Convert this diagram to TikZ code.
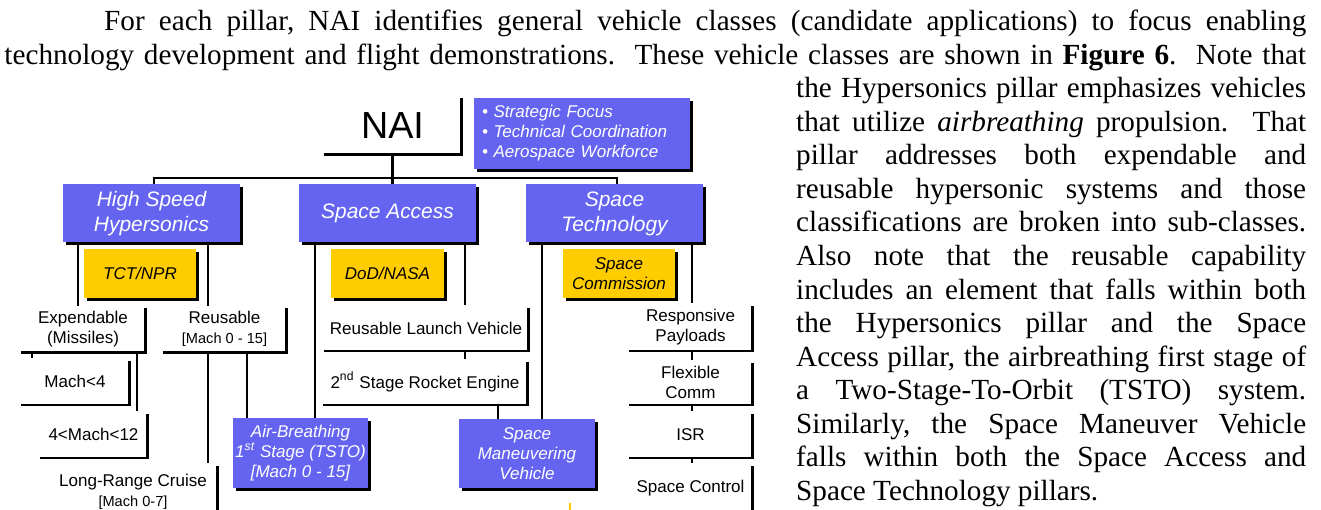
\documentclass[tikz,border=0pt]{standalone}
\usepackage{fontspec}
\setmainfont{Liberation Serif}
\newfontfamily\arialf{Liberation Sans}
\usetikzlibrary{shadows}
\definecolor{pblue}{RGB}{100,100,240}
\definecolor{pgold}{RGB}{255,204,0}
\newcommand\rbedge[1]{\draw[ln] ([yshift=-1.2pt]#1.north east) -- (#1.south east) -- (#1.south west);}
\newcommand\jline[3]{\noindent\hspace*{#1}\hbox to #2{#3}\par}
\frenchspacing
\begin{document}
\begin{tikzpicture}[x=0.411pt, y=-0.411pt,
  sz/.style 2 args={minimum width=#1*0.411pt, minimum height=#2*0.411pt},
  shad/.style={drop shadow={shadow xshift=1.1pt, shadow yshift=-1.1pt, opacity=1, fill=black}},
  bluebox/.style={fill=pblue, shad, inner sep=0pt, align=center, text=white,
    font=\arialf\itshape\fontsize{8.6}{10.3}\selectfont},
  smallblue/.style={bluebox, font=\arialf\itshape\fontsize{7}{8.2}\selectfont},
  goldbox/.style={fill=pgold, shad, inner sep=0pt, align=center, text=black,
    font=\arialf\itshape\fontsize{7}{8.2}\selectfont},
  wbox/.style={inner sep=0pt, align=center, text=black,
    font=\arialf\fontsize{7}{8.2}\selectfont},
  ln/.style={line width=0.85pt, black}]
\useasboundingbox (0,0) rectangle (1321,510);
\fill[white] (0,0) rectangle (1321,510);

% ---------- paragraph text ----------
\node[anchor=north west, inner sep=0pt, text width=535pt,
      font=\rmfamily\fontsize{12}{13.8}\selectfont] (para) at (4,5.67) {%
\spaceskip=3pt plus 8pt minus 1pt\xspaceskip=3pt plus 8pt minus 1pt
\noindent\hspace*{41pt}\rule{0pt}{10pt}\hbox to 494pt{For each pillar, NAI identifies general vehicle classes (candidate applications) to focus enabling}\par
\jline{0pt}{535pt}{technology development and flight demonstrations.\ \ These vehicle classes are shown in \textbf{Figure 6}.\ \ Note that}
\jline{325.4pt}{209.6pt}{the Hypersonics pillar emphasizes vehicles}
\jline{325.4pt}{209.6pt}{that utilize \textit{airbreathing} propulsion.\ \ That}
\jline{325.4pt}{209.6pt}{pillar addresses both expendable and}
\jline{325.4pt}{209.6pt}{reusable hypersonic systems and those}
\jline{325.4pt}{209.6pt}{classifications are broken into sub-classes.}
\jline{325.4pt}{209.6pt}{Also note that the reusable capability}
\jline{325.4pt}{209.6pt}{includes an element that falls within both}
\jline{325.4pt}{209.6pt}{the Hypersonics pillar and the Space}
\jline{325.4pt}{209.6pt}{Access pillar, the airbreathing first stage of}
\jline{325.4pt}{209.6pt}{a Two-Stage-To-Orbit (TSTO) system.}
\jline{325.4pt}{209.6pt}{Similarly, the Space Maneuver Vehicle}
\jline{325.4pt}{209.6pt}{falls within both the Space Access and}
\noindent\hspace*{325.4pt}Space Technology pillars.\par};

% ---------- blue boxes ----------
\node[bluebox, sz={177}{58}] (hsh) at (151.5,213.5) {High Speed\\Hypersonics};
\node[bluebox, sz={177}{58}] (sa) at (387.5,213.5) {Space Access};
\node[bluebox, sz={177}{58}] (st) at (614.5,213.5) {Space\\Technology};
\node[bluebox, sz={216}{71}, text width=82.2pt, align=left,
      font=\arialf\itshape\fontsize{7}{8.2}\selectfont] (sf) at (582,133.5)
  {\textbullet\ Strategic Focus\\\textbullet\ Technical Coordination\\\textbullet\ Aerospace Workforce};
\node[smallblue, sz={135}{70}] (ab) at (300.5,453) {Air-Breathing\\1\textsuperscript{st} Stage (TSTO)\\{}[Mach 0 - 15]};
\node[smallblue, sz={136}{69}] (smv) at (527,453.5) {Space\\Maneuvering\\Vehicle};

% ---------- gold boxes ----------
\node[goldbox, sz={112}{49}] (tct) at (140,273.5) {TCT/NPR};
\node[goldbox, sz={113}{49}] (dod) at (387.5,273.5) {DoD/NASA};
\node[goldbox, sz={112}{49}] (scm) at (619,273.5) {Space\\Commission};

% ---------- white boxes ----------
\node[wbox, sz={137}{56}, font=\arialf\fontsize{15.5}{18}\selectfont] (nai) at (392.5,126) {NAI};
\node[wbox, sz={124}{46}] (exp) at (83,329) {Expendable\\(Missiles)};
\node[wbox, sz={123}{46}] (reu) at (224.5,329) {Reusable\\{\fontsize{6}{7}\selectfont [Mach 0 - 15]}};
\node[wbox, sz={108}{46}] (m4) at (75,381.5) {Mach<4};
\node[wbox, sz={107}{46}] (m12) at (93.5,434.5) {4<Mach<12};
\node[wbox, sz={168}{56}] (lrc) at (133,491.5) {Long-Range Cruise\\{\fontsize{6}{7}\selectfont [Mach 0-7]}};
\node[wbox, sz={204}{45}] (rlv) at (426,328) {Reusable Launch Vehicle};
\node[wbox, sz={204}{45}] (sse) at (425,382) {2\textsuperscript{nd} Stage Rocket Engine};
\node[wbox, sz={123}{47}] (rp) at (690.5,327) {Responsive\\Payloads};
\node[wbox, sz={123}{44}] (fc) at (690.5,382.5) {Flexible\\Comm};
\node[wbox, sz={123}{46}] (isr) at (690.5,434.5) {ISR};
\node[wbox, sz={123}{50}] (sc) at (690.5,488.5) {Space Control};

\draw[ln] (nai.north east) -- (nai.south east) -- (nai.south west);
\rbedge{exp}\rbedge{reu}\rbedge{m4}\rbedge{m12}\rbedge{lrc}
\rbedge{rlv}\rbedge{sse}\rbedge{rp}\rbedge{fc}\rbedge{isr}\rbedge{sc}

% ---------- connectors ----------
\coordinate (busL) at (154,178);
\coordinate (busR) at (617,178);
\draw[ln] (nai.south) -- (nai.south |- sa.north);
\draw[ln] (154,0 |- hsh.north) -- (busL) -- (busR) -- (617,0 |- st.north);
\draw[ln] (78,0 |- hsh.south) -- (78,0 |- exp.north);
\draw[ln] (208,0 |- hsh.south) -- (208,0 |- reu.north);
\draw[ln] (32,0 |- exp.south) -- (32,0 |- m4.north);
\draw[ln] (137,0 |- exp.south) -- (137,0 |- m12.north);
\draw[ln] (208,0 |- reu.south) -- (208,0 |- lrc.north);
\draw[ln] (247,0 |- reu.south) -- (247,0 |- ab.north);
\draw[ln] (315,0 |- sa.south) -- (315,0 |- ab.north);
\draw[ln] (465,0 |- sa.south) -- (465,0 |- rlv.north);
\draw[ln] (465,0 |- rlv.south) -- (465,0 |- sse.north);
\draw[ln] (498,0 |- sse.south) -- (498,0 |- smv.north);
\draw[ln] (542,0 |- st.south) -- (542,0 |- smv.north);
\draw[ln] (692,0 |- st.south) -- (692,0 |- rp.north);
\draw[ln] (692,0 |- rp.south) -- (692,0 |- fc.north);
\draw[ln] (692,0 |- fc.south) -- (692,0 |- isr.north);
\draw[ln] (692,0 |- isr.south) -- (692,0 |- sc.north);

% small gold mark at the bottom edge
\draw[pgold, line width=1.2pt] (570,503) -- (570,515);
\end{tikzpicture}
\end{document}
